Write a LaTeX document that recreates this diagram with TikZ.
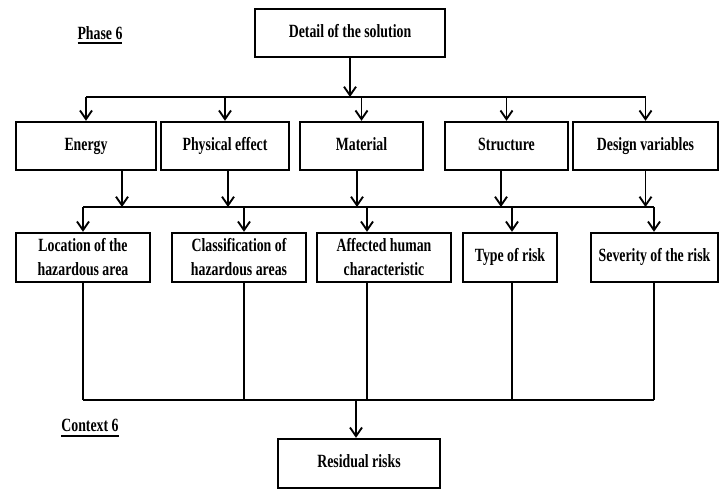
\documentclass[tikz,border=0pt]{standalone}
\usepackage{fontspec}
\setmainfont{Liberation Serif}[FakeStretch=0.74]
\usetikzlibrary{arrows.meta,calc}

\newcommand{\labelul}[1]{\setbox0\hbox{#1}\rlap{\rule[-3.5pt]{\wd0}{1.3pt}}\box0}

\tikzset{
  stagebox/.style={
    draw=black,
    line width=1.8pt,
    fill=white,
    align=center,
    inner sep=1pt,
    font=\bfseries\fontsize{14}{18}\selectfont,
    minimum height=36pt
  },
  oneline/.style={text height=9.5pt, text depth=3pt},
  flowline/.style={line width=1.3pt},
  flowarrow/.style={flowline, -{Straight Barb[length=6.5pt,width=9pt,line width=1.4pt]}},
  phaselabel/.style={font=\bfseries\fontsize{14}{18}\selectfont}
}

\begin{document}
\begin{tikzpicture}[x=0.75pt,y=-0.75pt]
  \useasboundingbox (0,0) rectangle (725,489);

  % Top box with the solution and the phase label
  \node[phaselabel] (phase) at (100,35) {\labelul{Phase 6}};
  \node[stagebox, oneline, minimum width=142.5pt] (solution) at (350,33) {Detail of the solution};

  % First row of boxes
  \node[stagebox, oneline, minimum width=105pt] (energy) at (86,146) {Energy};
  \node[stagebox, oneline, minimum width=96pt] (physical) at (225,146) {Physical effect};
  \node[stagebox, oneline, minimum width=92.25pt] (material) at (361.5,146) {Material};
  \node[stagebox, oneline, minimum width=92.25pt] (structure) at (506.5,146) {Structure};
  \node[stagebox, oneline, minimum width=108.75pt] (design) at (645.5,146) {Design variables};

  % Second row of boxes
  \node[stagebox, minimum width=100.5pt, minimum height=36.75pt] (location) at (83,257.5) {Location of the\\hazardous area};
  \node[stagebox, minimum width=100.5pt, minimum height=36.75pt] (classification) at (239,257.5) {Classification of\\hazardous areas};
  \node[stagebox, minimum width=100.5pt, minimum height=36.75pt] (affected) at (384,257.5) {Affected human\\characteristic};
  \node[stagebox, oneline, minimum width=70.5pt, minimum height=36.75pt] (risktype) at (510,257.5) {Type of risk};
  \node[stagebox, oneline, minimum width=95.25pt, minimum height=36.75pt] (severity) at (654.5,257.5) {Severity of the risk};

  % Result box and the context label
  \node[phaselabel] (context) at (90,428) {\labelul{Context 6}};
  \node[stagebox, oneline, minimum width=121.5pt, minimum height=36.75pt] (residual) at (359,463.5) {Residual risks};

  % Bus from the top box to the first row
  \coordinate (busA) at (86,97);
  \coordinate (busAend) at (646,97);
  \draw[flowarrow] (solution.south) -- (solution.south |- busA);
  \draw[flowline] (busA) -- (busAend);
  \foreach \n in {energy,physical,material,structure,design}
    \draw[flowarrow] (\n.north |- busA) -- (\n.north);

  % Bus from the first row to the second row
  \coordinate (busB) at (83,207);
  \coordinate (busBend) at (654,207);
  \draw[flowline] (busB) -- (busBend);
  \foreach \n/\dx in {energy/36,physical/3,material/-4.5,structure/-5.5,design/0}{
    \coordinate (\n-out) at ($(\n.south)+(\dx,0)$);
    \draw[flowarrow] (\n-out) -- (\n-out |- busB);
  }

  % Bus from the second row to the residual risks
  \coordinate (busC) at (83,400);
  \coordinate (busCend) at (654,400);
  \foreach \n/\dx in {location/0,classification/5,affected/-17,risktype/2,severity/-0.5}{
    \coordinate (\n-in) at ($(\n.north)+(\dx,0)$);
    \coordinate (\n-out) at ($(\n.south)+(\dx,0)$);
    \draw[flowarrow] (\n-in |- busB) -- (\n-in);
    \draw[flowline] (\n-out) -- (\n-out |- busC);
  }
  \draw[flowline] (busC) -- (busCend);
  \draw[flowarrow] ($(residual.north |- busC)+(-3,0)$) -- ($(residual.north)+(-3,0)$);
\end{tikzpicture}
\end{document}
